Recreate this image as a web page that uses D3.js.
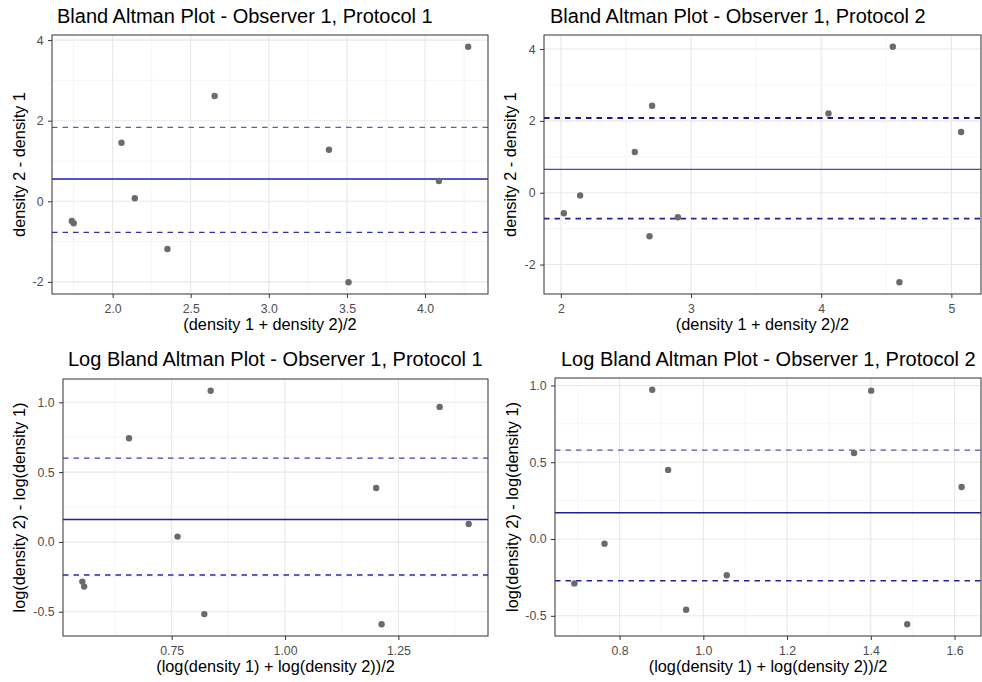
<!DOCTYPE html>
<html>
<head>
<meta charset="utf-8">
<script src="https://cdn.jsdelivr.net/npm/d3@7"></script>
<style>
  body { margin: 0; background: #fff; }
  text { font-family: "Liberation Sans", Arial, sans-serif; }
</style>
</head>
<body>
<div id="my_dataviz"></div>
<script>

// ---- data ----
const titles = [
  "Bland Altman Plot - Observer 1, Protocol 1",
  "Bland Altman Plot - Observer 1, Protocol 2",
  "Log Bland Altman Plot - Observer 1, Protocol 1",
  "Log Bland Altman Plot - Observer 1, Protocol 2"
]
const xTitles = [
  "(density 1 + density 2)/2",
  "(density 1 + density 2)/2",
  "(log(density 1) + log(density 2))/2",
  "(log(density 1) + log(density 2))/2"
]
const yTitles = [
  "density 2 - density 1",
  "density 2 - density 1",
  "log(density 2) - log(density 1)",
  "log(density 2) - log(density 1)"
]

// means (x) and differences (y)
const p1x = [4.276, 2.653, 2.057, 3.385, 4.089, 2.142, 1.739, 1.751, 2.351, 3.510]
const p1y = [3.834, 2.611, 1.454, 1.280, 0.504, 0.074, -0.488, -0.545, -1.182, -2.008]
const p2x = [4.550, 2.701, 4.056, 5.075, 2.568, 2.148, 2.023, 2.899, 2.681, 4.601]
const p2y = [4.064, 2.423, 2.209, 1.690, 1.134, -0.074, -0.573, -0.684, -1.213, -2.492]
const p3x = [0.836, 1.341, 0.656, 1.201, 1.405, 0.763, 0.553, 0.557, 0.822, 1.213]
const p3y = [1.083, 0.967, 0.742, 0.386, 0.128, 0.038, -0.284, -0.320, -0.517, -0.590]
const p4x = [0.878, 1.401, 1.360, 0.916, 1.617, 0.764, 0.692, 1.056, 0.959, 1.487]
const p4y = [0.972, 0.966, 0.560, 0.450, 0.339, -0.030, -0.289, -0.236, -0.460, -0.555]

// mean difference and limits of agreement
const meanDiff = [0.553, 0.651, 0.160, 0.171]
const upperLoa = [1.835, 2.081, 0.600, 0.579]
const lowerLoa = [-0.769, -0.720, -0.236, -0.272]

// tick values and labels
const xTicks = [[2, 2.5, 3, 3.5, 4], [2, 3, 4, 5], [0.75, 1, 1.25], [0.8, 1, 1.2, 1.4, 1.6]]
const xLabels = [["2.0", "2.5", "3.0", "3.5", "4.0"], ["2", "3", "4", "5"], ["0.75", "1.00", "1.25"], ["0.8", "1.0", "1.2", "1.4", "1.6"]]
const yTicks = [[-2, 0, 2, 4], [-2, 0, 2, 4], [-0.5, 0, 0.5, 1], [-0.5, 0, 0.5, 1]]
const yLabels = [["-2", "0", "2", "4"], ["-2", "0", "2", "4"], ["-0.5", "0.0", "0.5", "1.0"], ["-0.5", "0.0", "0.5", "1.0"]]

// ---- layout ----
const W = 982, H = 682
const panels = [
  { left: 52, right: 488, top: 35, bottom: 294, titleX: 57, titleY: 22.5, yTitleX: 25 },
  { left: 544, right: 981, top: 35, bottom: 294, titleX: 550, titleY: 22.5, yTitleX: 515.5 },
  { left: 63, right: 488, top: 379, bottom: 636, titleX: 68, titleY: 366, yTitleX: 25 },
  { left: 555, right: 981, top: 378, bottom: 636, titleX: 561, titleY: 366, yTitleX: 517.5 }
]
// line look per panel (the reference renders them slightly differently)
const lineLook = [
  { mean: ["#1c1cb0", 1.6], up: ["#5c5cb0", 1.2], lo: ["#3030aa", 1.3] },
  { mean: ["#4646d0", 1.1], up: ["#1a1a80", 1.8], lo: ["#22229a", 1.8] },
  { mean: ["#1c1cb0", 1.5], up: ["#4040ae", 1.3], lo: ["#2a2aa8", 1.5] },
  { mean: ["#20208a", 1.6], up: ["#5252a8", 1.2], lo: ["#22229a", 1.6] }
]

const xs = [p1x, p2x, p3x, p4x]
const ys = [p1y, p2y, p3y, p4y]

var svg = d3.select("#my_dataviz")
  .append("svg")
    .attr("width", W)
    .attr("height", H)

svg.append("rect").attr("width", W).attr("height", H).attr("fill", "#fff")

// ggplot style 5% expansion
function expanded(vals) {
  let e = d3.extent(vals)
  let pad = (e[1] - e[0]) * 0.05
  return [e[0] - pad, e[1] + pad]
}

// minor breaks halfway between majors, plus one step outside
function minors(ticks, domain) {
  let step = ticks[1] - ticks[0]
  let out = []
  for (let i = -1; i < ticks.length; i++) {
    let v = ticks[0] + step * (i + 0.5)
    if (v > domain[0] && v < domain[1]) out.push(v)
  }
  return out
}

panels.forEach((p, i) => {
  let data = xs[i].map((d, j) => ({ x: d, y: ys[i][j] }))

  let xDom = expanded(xs[i])
  let yDom = expanded(ys[i])

  var x = d3.scaleLinear().domain(xDom).range([p.left, p.right])
  var y = d3.scaleLinear().domain(yDom).range([p.bottom, p.top])

  let g = svg.append("g")

  // grid
  let grid = g.append("g")
  grid.selectAll(".xmin").data(minors(xTicks[i], xDom)).enter().append("line")
    .attr("x1", d => x(d)).attr("x2", d => x(d))
    .attr("y1", p.top).attr("y2", p.bottom)
    .attr("stroke", "#f0f0f0").attr("stroke-width", 0.7)
  grid.selectAll(".ymin").data(minors(yTicks[i], yDom)).enter().append("line")
    .attr("y1", d => y(d)).attr("y2", d => y(d))
    .attr("x1", p.left).attr("x2", p.right)
    .attr("stroke", "#f0f0f0").attr("stroke-width", 0.7)
  grid.selectAll(".xmaj").data(xTicks[i]).enter().append("line")
    .attr("x1", d => x(d)).attr("x2", d => x(d))
    .attr("y1", p.top).attr("y2", p.bottom)
    .attr("stroke", "#e8e8e8").attr("stroke-width", 1.1)
  grid.selectAll(".ymaj").data(yTicks[i]).enter().append("line")
    .attr("y1", d => y(d)).attr("y2", d => y(d))
    .attr("x1", p.left).attr("x2", p.right)
    .attr("stroke", "#e8e8e8").attr("stroke-width", 1.1)

  // reference lines
  let look = lineLook[i]
  let hline = (v, c, dash) => {
    g.append("line")
      .attr("x1", p.left).attr("x2", p.right)
      .attr("y1", y(v)).attr("y2", y(v))
      .attr("stroke", c[0]).attr("stroke-width", c[1])
      .attr("stroke-dasharray", dash ? "5.5,5" : null)
  }
  hline(meanDiff[i], look.mean, false)
  hline(upperLoa[i], look.up, true)
  hline(lowerLoa[i], look.lo, true)

  // points
  g.append("g")
    .selectAll("circle")
    .data(data)
    .enter()
    .append("circle")
      .attr("cx", d => x(d.x))
      .attr("cy", d => y(d.y))
      .attr("r", 3.2)
      .style("fill", "#6b6b6b")

  // axes
  let xAxis = g.append("g")
    .attr("transform", "translate(0," + p.bottom + ")")
    .call(d3.axisBottom(x).tickValues(xTicks[i]).tickSize(4).tickPadding(6)
      .tickFormat((d, k) => xLabels[i][k]))
  let yAxis = g.append("g")
    .attr("transform", "translate(" + p.left + ",0)")
    .call(d3.axisLeft(y).tickValues(yTicks[i]).tickSize(4).tickPadding(4.5)
      .tickFormat((d, k) => yLabels[i][k]))
  ;[xAxis, yAxis].forEach(a => {
    a.select(".domain").remove()
    a.selectAll(".tick line").attr("stroke", "#333").attr("stroke-width", 1)
    a.selectAll(".tick text").attr("fill", "#4d4d4d")
      .style("font-size", "12.3px")
      .style("font-family", "'Liberation Sans', Arial, sans-serif")
  })

  // panel border
  g.append("rect")
    .attr("x", p.left).attr("y", p.top)
    .attr("width", p.right - p.left).attr("height", p.bottom - p.top)
    .attr("fill", "none").attr("stroke", "#333").attr("stroke-width", 1)

  // titles
  g.append("text")
    .attr("x", p.titleX).attr("y", p.titleY)
    .style("font-size", "20px")
    .attr("fill", "#000")
    .text(titles[i])

  g.append("text")
    .attr("x", (p.left + p.right) / 2).attr("y", p.bottom + 36)
    .attr("text-anchor", "middle")
    .style("font-size", "16.3px")
    .text(xTitles[i])

  g.append("text")
    .attr("transform", "translate(" + p.yTitleX + "," + ((p.top + p.bottom) / 2) + ") rotate(-90)")
    .attr("text-anchor", "middle")
    .style("font-size", "16.3px")
    .text(yTitles[i])
})

</script>
</body>
</html>
